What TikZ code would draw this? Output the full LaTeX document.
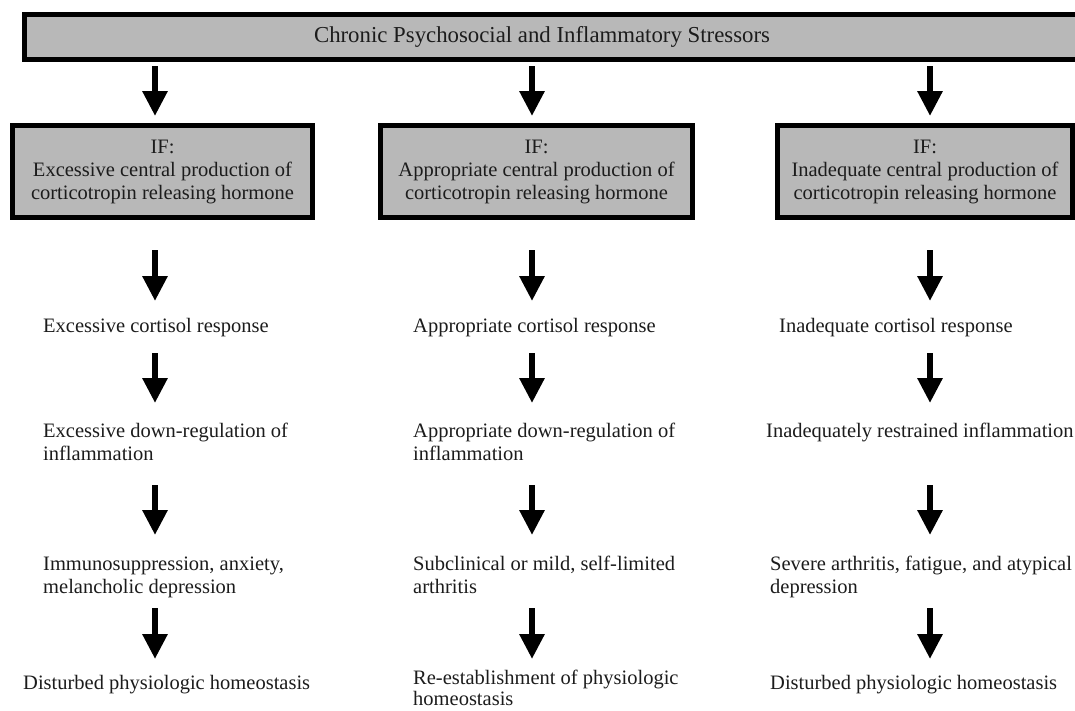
\documentclass[tikz,border=0pt]{standalone}
\usepackage{fontspec}
\setmainfont{Liberation Serif}
\usetikzlibrary{arrows.meta}
\definecolor{panelgray}{RGB}{184,184,184}
\definecolor{inkgray}{RGB}{28,28,28}
% two left-aligned lines whose baseline is that of the first line
\newcommand{\linepair}[2]{\vtop{\hbox{#1}\hbox{#2}}}
\tikzset{
  every node/.style={text=inkgray},
  stressbox/.style={draw=black, line width=5pt, fill=panelgray, inner sep=0pt,
    minimum height=45pt, font=\fontsize{22.8}{26}\selectfont},
  ifbox/.style={draw=black, line width=5pt, fill=panelgray, inner sep=0pt,
    minimum height=92pt, align=center, font=\fontsize{20.5}{23}\selectfont},
  outcome/.style={anchor=base west, inner sep=0pt,
    font=\fontsize{20.5}{23}\selectfont},
  flow/.style={draw=black, line width=6pt, -{Triangle[length=25pt,width=24pt]}},
  rowA/.style={shorten <=4pt, shorten >=7pt},
  rowB/.style={shorten <=30pt, shorten >=31pt},
  rowC/.style={shorten <=21pt, shorten >=34pt},
  rowD/.style={shorten <=48pt, shorten >=35pt},
  rowE/.style={shorten <=38pt, shorten >=#1},
  rowE/.default=30pt,
}
\begin{document}
\begin{tikzpicture}[x=1pt,y=-1pt]
\useasboundingbox (0,0) rectangle (1075,710);
\clip (0,0) rectangle (1075,710);
\fill[white] (0,0) rectangle (1075,710);

% column axes
\coordinate (c1) at (155,0);
\coordinate (c2) at (532,0);
\coordinate (c3) at (930,0);

% common stressor banner (runs off the right edge)
\node[stressbox, minimum width=1063pt] (top) at (556,37)
  {\kern-14pt Chronic Psychosocial and Inflammatory Stressors\kern14pt};

% the three CRH conditions
\node[ifbox, minimum width=300pt] (if1) at (162.5,171.5)
  {IF:\\Excessive central production of\\corticotropin releasing hormone};
\node[ifbox, minimum width=312pt] (if2) at (536.5,171.5)
  {IF:\\Appropriate central production of\\corticotropin releasing hormone};
\node[ifbox, minimum width=295pt] (if3) at (925,171.5)
  {IF:\\Inadequate central production of\\corticotropin releasing hormone};

% column 1: excessive CRH
\node[outcome] (t11) at (43,332) {Excessive cortisol response};
\node[outcome] (t12) at (43,437) {\linepair{Excessive down-regulation of}{inflammation}};
\node[outcome] (t13) at (43,570) {\linepair{Immunosuppression, anxiety,}{melancholic depression}};
\node[outcome] (t14) at (23,689) {Disturbed physiologic homeostasis};

% column 2: appropriate CRH
\node[outcome] (t21) at (413,332) {Appropriate cortisol response};
\node[outcome] (t22) at (413,437) {\linepair{Appropriate down-regulation of}{inflammation}};
\node[outcome] (t23) at (413,570) {\linepair{Subclinical or mild, self-limited}{arthritis}};
\node[outcome, font=\fontsize{20.5}{21}\selectfont] (t24) at (413,684)
  {\linepair{Re-establishment of physiologic}{homeostasis}};

% column 3: inadequate CRH
\node[outcome] (t31) at (779,332) {Inadequate cortisol response};
\node[outcome] (t32) at (766,437) {Inadequately restrained inflammation};
\node[outcome] (t33) at (770,570) {\linepair{Severe arthritis, fatigue, and atypical}{depression}};
\node[outcome] (t34) at (770,689) {Disturbed physiologic homeostasis};

% downward flow in each column
\foreach \n in {1,2,3} {
  \draw[flow,rowA] (c\n |- top.south) -- (c\n |- if\n.north);
  \draw[flow,rowB] (c\n |- if\n.south) -- (c\n |- t\n1.base);
  \draw[flow,rowC] (c\n |- t\n1.base) -- (c\n |- t\n2.base);
  \draw[flow,rowD] (c\n |- t\n2.base) -- (c\n |- t\n3.base);
}
\draw[flow,rowE] (c1 |- t13.base) -- (c1 |- t14.base);
\draw[flow,rowE=25pt] (c2 |- t23.base) -- (c2 |- t24.base);
\draw[flow,rowE] (c3 |- t33.base) -- (c3 |- t34.base);
\end{tikzpicture}
\end{document}
